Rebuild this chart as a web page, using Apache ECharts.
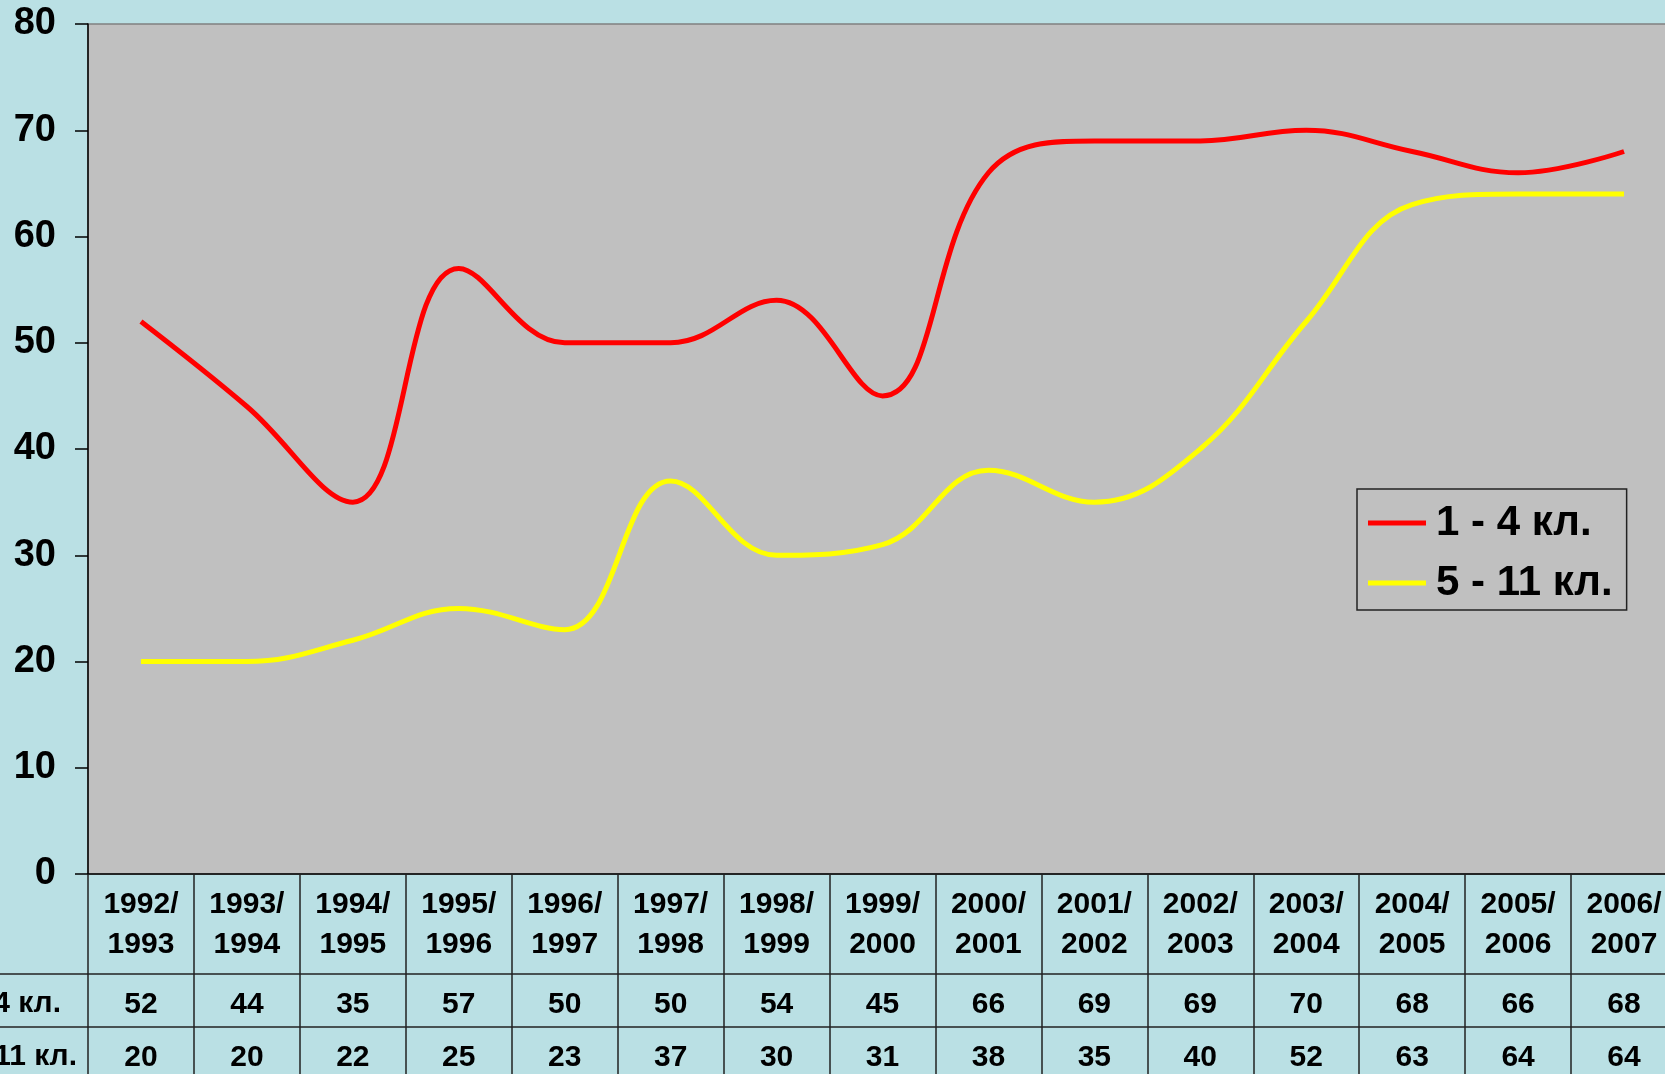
<!DOCTYPE html>
<html>
<head>
<meta charset="utf-8">
<script src="https://cdn.jsdelivr.net/npm/echarts@6/dist/echarts.min.js"></script>
<style>
  html, body { margin: 0; padding: 0; background: #bae0e4; }
  #chart { width: 1665px; height: 1074px; }
</style>
</head>
<body>
<div id="chart"></div>
<script>
// учебные годы
var years = ['1992/\n1993', '1993/\n1994', '1994/\n1995', '1995/\n1996', '1996/\n1997',
    '1997/\n1998', '1998/\n1999', '1999/\n2000', '2000/\n2001', '2001/\n2002',
    '2002/\n2003', '2003/\n2004', '2004/\n2005', '2005/\n2006', '2006/\n2007'];
var grades14 = [52, 44, 35, 57, 50, 50, 54, 45, 66, 69, 69, 70, 68, 66, 68];
var grades511 = [20, 20, 22, 25, 23, 37, 30, 31, 38, 35, 40, 52, 63, 64, 64];
var seriesNames = ['1 - 4 кл.', '5 - 11 кл.'];

var font = "'Liberation Sans', Arial, sans-serif";
var chart = echarts.init(document.getElementById('chart'));

// строки таблицы под графиком - отдельные оси со смещением
function tableRow(values, offset) {
    return {
        type: 'category',
        data: years,
        position: 'bottom',
        offset: offset,
        boundaryGap: true,
        axisLine: { show: true, lineStyle: { color: '#222', width: 1.5 } },
        axisTick: { show: false },
        axisLabel: {
            interval: 0,
            margin: 16,
            color: '#000',
            fontFamily: font,
            fontWeight: 'bold',
            fontSize: 30,
            lineHeight: 30,
            formatter: function (v, i) { return String(values[i]); }
        },
        splitLine: { show: false }
    };
}

chart.setOption({
    backgroundColor: '#bae0e4',
    animation: false,
    grid: {
        left: 88, top: 24, right: -12, height: 850,
        outerBoundsMode: 'none',
        containLabel: false,
        show: true,
        backgroundColor: '#c0c0c0',
        borderColor: '#808080',
        borderWidth: 1.5
    },
    legend: {
        orient: 'vertical',
        left: 1357, top: 489,
        padding: [12, 14, 5, 11],
        itemGap: 16,
        itemWidth: 58,
        itemHeight: 5,
        icon: 'rect',
        backgroundColor: '#c0c0c0',
        borderColor: '#222',
        borderWidth: 1.5,
        textStyle: {
            color: '#000', fontFamily: font, fontWeight: 'bold',
            fontSize: 42, lineHeight: 44, padding: [0, 0, 0, 5]
        },
        data: seriesNames
    },
    xAxis: [{
        type: 'category',
        data: years,
        boundaryGap: true,
        axisLine: { lineStyle: { color: '#000', width: 1.5 } },
        axisTick: { show: true, length: 210, interval: 0, lineStyle: { color: '#222', width: 1.5 } },
        axisLabel: {
            interval: 0,
            margin: 11,
            color: '#000',
            fontFamily: font,
            fontWeight: 'bold',
            fontSize: 30,
            lineHeight: 40
        }
    }, tableRow(grades14, 100), tableRow(grades511, 153)],
    yAxis: {
        type: 'value',
        min: 0, max: 80, interval: 10,
        axisLine: { show: true, lineStyle: { color: '#000', width: 1.5 } },
        axisTick: { show: true, length: 13, lineStyle: { color: '#000', width: 1.5 } },
        splitLine: { show: false },
        axisLabel: {
            margin: 32,
            color: '#000',
            fontFamily: font,
            fontWeight: 'bold',
            fontSize: 38
        }
    },
    series: [{
        name: seriesNames[0],
        type: 'line',
        data: grades14,
        smooth: 0.4,
        symbol: 'none',
        itemStyle: { color: '#ff0000' },
        lineStyle: { color: '#ff0000', width: 5 }
    }, {
        name: seriesNames[1],
        type: 'line',
        data: grades511,
        smooth: 0.4,
        symbol: 'none',
        itemStyle: { color: '#ffff00' },
        lineStyle: { color: '#ffff00', width: 5 }
    }],
    graphic: [
        // продолжение линий таблицы влево, к подписям строк
        { type: 'line', shape: { x1: 0, y1: 974, x2: 88, y2: 974 }, style: { stroke: '#222', lineWidth: 1.5 } },
        { type: 'line', shape: { x1: 0, y1: 1027, x2: 88, y2: 1027 }, style: { stroke: '#222', lineWidth: 1.5 } },
        { type: 'text', x: 61, y: 1004, style: { text: seriesNames[0], align: 'right', verticalAlign: 'middle', fill: '#000', font: 'bold 30px ' + font } },
        { type: 'text', x: 77, y: 1057, style: { text: seriesNames[1], align: 'right', verticalAlign: 'middle', fill: '#000', font: 'bold 30px ' + font } }
    ]
});
</script>
</body>
</html>
